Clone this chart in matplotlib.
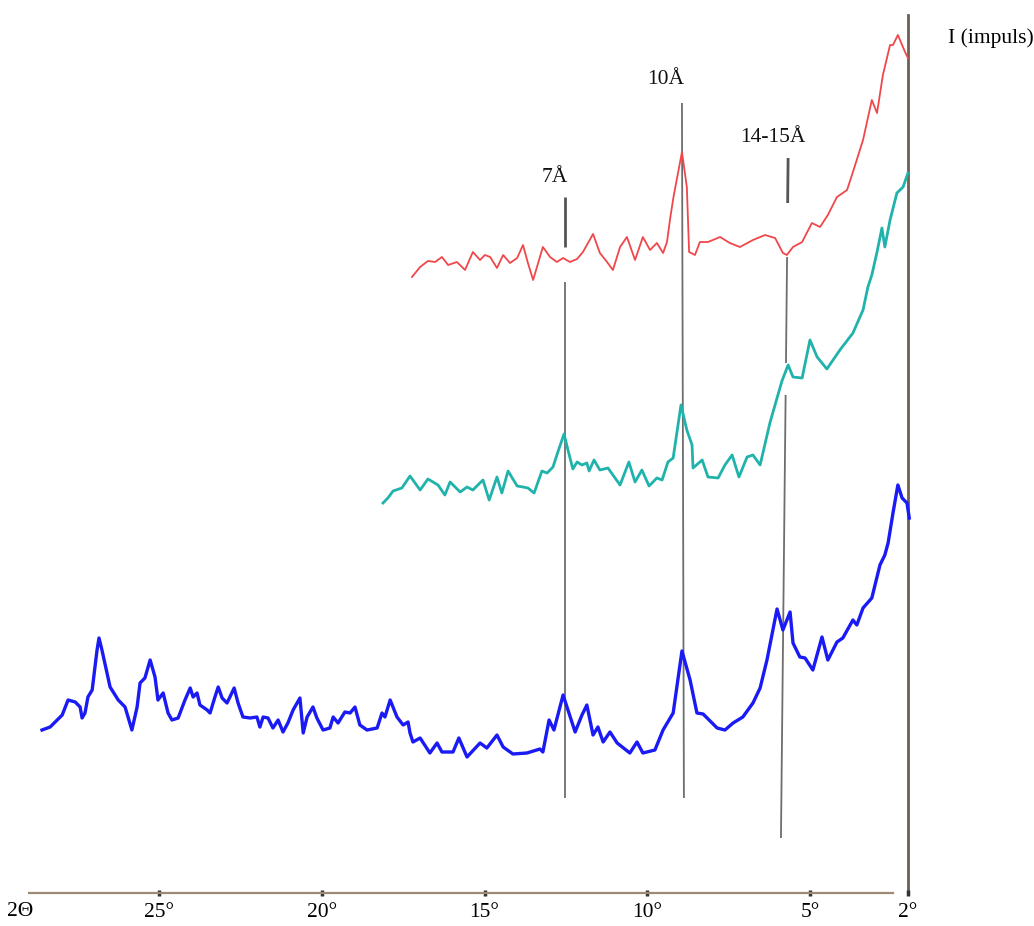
import matplotlib
matplotlib.use("Agg")
import matplotlib.pyplot as plt

# ---- data (2-theta in degrees, intensity in arbitrary units) ----
blue_x = [28.59, 28.34, 27.97, 27.79, 27.57, 27.42, 27.36, 27.27, 27.18, 27.05, 26.90, 26.84, 26.75,
          26.50, 26.25, 26.04, 25.83, 25.67, 25.58, 25.43, 25.27, 25.12, 25.03, 24.87, 24.72, 24.60,
          24.41, 24.20, 24.04, 23.95, 23.83, 23.74, 23.52, 23.43, 23.28, 23.18, 23.06, 22.91, 22.82,
          22.69, 22.57, 22.42, 22.20, 21.99, 21.90, 21.80, 21.65, 21.50, 21.34, 21.19, 21.04, 20.88,
          20.67, 20.57, 20.45, 20.27, 20.15, 19.96, 19.75, 19.65, 19.50, 19.29, 19.13, 18.98, 18.83,
          18.61, 18.30, 18.15, 18.06, 17.90, 17.69, 17.50, 17.35, 17.29, 17.20, 16.98, 16.68, 16.46,
          16.31, 15.97, 15.79, 15.54, 15.14, 14.93, 14.62, 14.43, 14.13, 13.70, 13.30, 13.21, 13.02,
          12.87, 12.59, 12.44, 12.22, 12.01, 11.86, 11.67, 11.52, 11.36, 11.15, 10.93, 10.54, 10.32,
          10.14, 9.77, 9.52, 9.21, 8.94, 8.69, 8.48, 8.29, 7.86, 7.62, 7.37, 7.07, 6.76, 6.54, 6.33,
          6.02, 5.84, 5.62, 5.53, 5.32, 5.16, 4.92, 4.64, 4.46, 4.18, 4.00, 3.69, 3.57, 3.38, 3.11,
          2.86, 2.71, 2.61, 2.46, 2.31, 2.18, 2.03, 1.96]
blue_y = [163, 166, 178, 193, 191, 186, 175, 180, 196, 203, 243, 255, 243,
          206, 193, 186, 163, 186, 210, 215, 233, 216, 193, 200, 180, 173,
          175, 193, 205, 196, 200, 188, 183, 180, 196, 206, 195, 190, 196,
          205, 190, 176, 175, 176, 166, 176, 175, 165, 173, 161, 170, 183,
          195, 160, 176, 186, 175, 163, 165, 176, 170, 181, 180, 186, 168,
          163, 165, 180, 176, 193, 176, 168, 171, 160, 151, 155, 140, 150,
          141, 141, 155, 136, 150, 145, 158, 146, 139, 140, 144, 141, 173,
          163, 198, 183, 161, 178, 188, 158, 166, 151, 161, 150, 140, 151,
          140, 143, 163, 180, 242, 213, 180, 179, 165, 163, 170, 176, 190, 205, 233,
          284, 263, 281, 250, 236, 235, 223, 256, 233, 251, 255, 273, 268, 285, 295,
          328, 338, 350, 380, 408, 395, 390, 375]

cyan_x = [18.12, 17.97, 17.81, 17.54, 17.29, 16.98, 16.74, 16.43, 16.22, 16.06, 15.75, 15.54, 15.36,
          15.05, 14.86, 14.62, 14.47, 14.28, 14.00, 13.82, 13.67, 13.48, 13.24, 13.08, 12.90, 12.75,
          12.56, 12.44, 12.29, 12.16, 12.01, 11.86, 11.79, 11.64, 11.46, 11.21, 11.06, 10.84, 10.57,
          10.38, 10.17, 9.95, 9.71, 9.55, 9.37, 9.21, 8.97, 8.79, 8.63, 8.60, 8.32, 8.14, 7.83, 7.62,
          7.40, 7.19, 6.94, 6.76, 6.54, 6.24, 6.02, 5.87, 5.68, 5.53, 5.25, 5.01, 4.79, 4.49, 4.09,
          3.69, 3.38, 3.23, 3.11, 2.95, 2.80, 2.71, 2.55, 2.34, 2.15, 2.00]
cyan_y = [390, 395, 402, 405, 417, 403, 414, 408, 398, 411, 401, 406, 403,
          413, 393, 416, 400, 422, 407, 406, 405, 400, 422, 420, 426, 441,
          459, 443, 424, 431, 428, 430, 422, 433, 423, 425, 418, 408, 431,
          411, 423, 407, 415, 413, 431, 435, 488, 463, 448, 425, 433, 416, 415, 428,
          438, 416, 436, 438, 428, 470, 495, 512, 528, 516, 515, 553, 536, 524, 543,
          560, 583, 606, 618, 641, 665, 646, 673, 700, 706, 720]

red_x = [17.23, 16.98, 16.74, 16.52, 16.31, 16.12, 15.85, 15.60, 15.36, 15.14, 14.99, 14.83, 14.62,
         14.43, 14.22, 14.00, 13.82, 13.67, 13.51, 13.21, 12.99, 12.78, 12.59, 12.38, 12.16, 11.98,
         11.67, 11.46, 11.24, 11.06, 10.84, 10.63, 10.38, 10.14, 9.92, 9.71, 9.52, 9.40, 9.30, 9.20,
         8.94, 8.79, 8.72, 8.54, 8.39, 8.14, 7.77, 7.47, 7.16, 6.76, 6.39, 6.08, 5.84, 5.72, 5.53,
         5.25, 4.95, 4.70, 4.46, 4.18, 3.87, 3.69, 3.38, 3.11, 2.95, 2.77, 2.55, 2.46, 2.31, 2.09, 2.00]
red_y = [616, 626, 632, 631, 636, 628, 631, 623, 641, 633, 638, 636, 625,
         638, 630, 635, 648, 630, 613, 646, 636, 631, 635, 631, 634, 641,
         659, 640, 631, 623, 646, 656, 633, 656, 643, 650, 640, 651, 675, 696,
         741, 706, 641, 638, 651, 651, 656, 650, 646, 653, 658, 655, 640, 638, 646,
         651, 670, 666, 678, 696, 703, 721, 753, 793, 780, 818, 848, 848, 858, 841, 835]

# reference d-spacing markers: label, (x_top, x_bottom), segments (y0, y1)
marker_labels = ["7Å", "10Å", "14-15Å"]
marker_x = [(12.53, 12.53), (8.94, 8.88), (5.68, 5.90)]
marker_segments = [[(696, 646), (611, 95)], [(790, 95)], [(735, 690), (636, 530), (498, 55)]]
marker_label_pos = [(12.84, 715), (9.43, 813), (6.15, 755)]

tick_pos = [25, 20, 15, 10, 5, 2]
tick_labels = ["25°", "20°", "15°", "10°", "5°", "2°"]

# ---- figure ----
fig = plt.figure(figsize=(10.34, 9.26), dpi=100)
ax = fig.add_axes([0, 0, 1, 1])
ax.set_xlim(29.88, -1.87)
ax.set_ylim(-33, 893)

serif = ["Liberation Serif", "DejaVu Serif"]
FS = 15.5

# marker lines
for (xt, xb), segs in zip(marker_x, marker_segments):
    ytop_all = segs[0][0]
    ybot_all = segs[-1][1]

    def xat(y, xt=xt, xb=xb, yt=ytop_all, yb=ybot_all):
        return xt + (xb - xt) * (yt - y) / (yt - yb)

    for i, (y0, y1) in enumerate(segs):
        top = (i == 0 and len(segs) > 1)
        lw = 2.0 if top else 1.3
        col = "#555555" if top else "#6e6e6e"
        ax.plot([xat(y0), xat(y1)], [y0, y1], color=col, lw=lw, zorder=1,
                solid_capstyle="butt")

for lab, (lx, ly) in zip(marker_labels, marker_label_pos):
    ax.text(lx, ly, lab, ha="center", va="center", fontsize=FS, family=serif, color="#111111")

# right vertical axis line
ax.plot([2.0, 2.0], [0, 878], color="#6f5f50", lw=2.0, zorder=1)

# curves
ax.plot(red_x, red_y, color="#f0474a", lw=1.3, zorder=3)
ax.plot(cyan_x, cyan_y, color="#1fb3ab", lw=2.0, zorder=3)
ax.plot(blue_x, blue_y, color="#1a1af5", lw=2.4, zorder=3)

# axes styling
for s in ["left", "right", "top"]:
    ax.spines[s].set_visible(False)
ax.spines["bottom"].set_position(("data", 0))
ax.spines["bottom"].set_bounds(2.46, 28.99)
ax.spines["bottom"].set_color("#9c8b72")
ax.spines["bottom"].set_linewidth(1.6)
ax.set_yticks([])
ax.set_xticks(tick_pos)
ax.set_xticklabels(tick_labels, fontsize=FS, family=serif)
ax.tick_params(axis="x", direction="inout", length=4, width=2.5, color="#333333", pad=5)
ax.set_facecolor("white")

ax.text(29.27, -19, "2Θ", ha="center", va="center", fontsize=FS, family=serif)
ax.text(0.77, 855, "I (impuls)", ha="left", va="center", fontsize=FS, family=serif)

fig.savefig("out.png", dpi=100)
